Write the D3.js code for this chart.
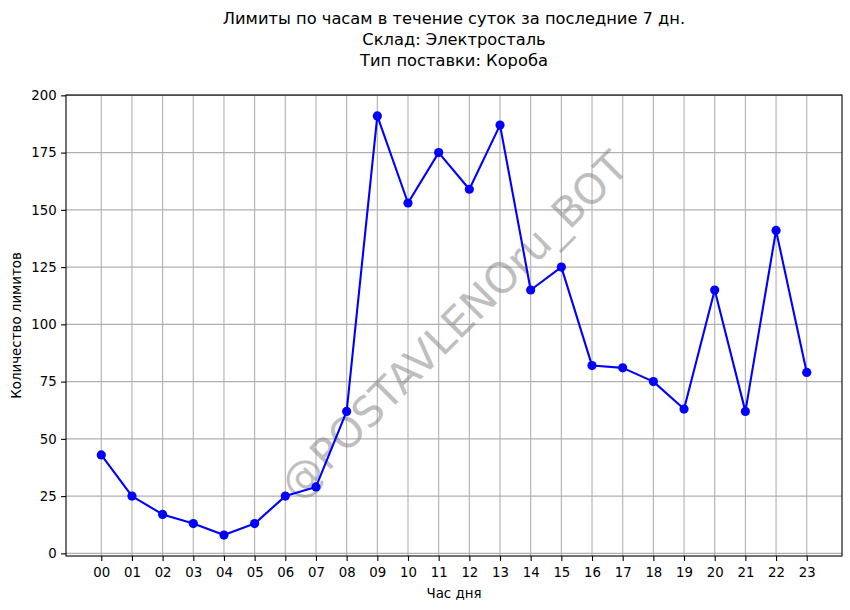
<!DOCTYPE html>
<html>
<head>
<meta charset="utf-8">
<script src="https://cdn.jsdelivr.net/npm/d3@7"></script>
<style>
  body { margin: 0; background: #fff; }
  svg { font-family: "DejaVu Sans", sans-serif; }
</style>
</head>
<body>
<div id="chart"></div>
<script>
// данные ----------------------------------------------------------------------
const hours = ['00', '01', '02', '03', '04', '05', '06', '07', '08', '09', '10', '11',
  '12', '13', '14', '15', '16', '17', '18', '19', '20', '21', '22', '23'];
const limits = [43, 25, 17, 13, 8, 13, 25, 29, 62, 191, 153, 175,
  159, 187, 115, 125, 82, 81, 75, 63, 115, 62, 141, 79];
const yTicks = [0, 25, 50, 75, 100, 125, 150, 175, 200];
const titleLines = [
  'Лимиты по часам в течение суток за последние 7 дн.',
  'Склад: Электросталь',
  'Тип поставки: Короба'
];
const xLabel = 'Час дня';
const yLabel = 'Количество лимитов';
const watermark = '@POSTAVLENOru_BOT';

// размеры ---------------------------------------------------------------------
const width = 850;
const height = 610;
const margin = { top: 95, right: 8, bottom: 54, left: 66 };
const innerW = width - margin.left - margin.right;
const innerH = height - margin.top - margin.bottom;

const svg = d3.select('#chart').append('svg')
  .attr('width', width)
  .attr('height', height);

const g = svg.append('g')
  .attr('transform', 'translate(' + margin.left + ',' + margin.top + ')');

// шкалы -----------------------------------------------------------------------
const x = d3.scaleLinear()
  .domain([-1.15, hours.length - 1 + 1.15])
  .range([0, innerW]);
const y = d3.scaleLinear()
  .domain([-1.15, 200.15])
  .range([innerH, 0]);

// сетка -----------------------------------------------------------------------
g.append('g')
  .selectAll('line')
  .data(hours)
  .enter()
  .append('line')
  .attr('x1', (d, i) => x(i))
  .attr('x2', (d, i) => x(i))
  .attr('y1', 0)
  .attr('y2', innerH)
  .attr('stroke', '#b0b0b0')
  .attr('stroke-width', 1.1);
g.append('g')
  .selectAll('line')
  .data(yTicks)
  .enter()
  .append('line')
  .attr('x1', 0)
  .attr('x2', innerW)
  .attr('y1', d => y(d))
  .attr('y2', d => y(d))
  .attr('stroke', '#b0b0b0')
  .attr('stroke-width', 1.1);

// водяной знак ----------------------------------------------------------------
g.append('text')
  .attr('transform', 'translate(' + (innerW / 2) + ',' + (innerH / 2) + ') rotate(-45)')
  .attr('text-anchor', 'middle')
  .attr('dominant-baseline', 'central')
  .attr('font-size', '42px')
  .attr('fill', '#808080')
  .attr('fill-opacity', 0.5)
  .text(watermark);

// оси -------------------------------------------------------------------------
const xAxis = d3.axisBottom(x)
  .tickValues(d3.range(hours.length))
  .tickFormat(i => hours[i])
  .tickSize(4.9)
  .tickPadding(7);
const yAxis = d3.axisLeft(y)
  .tickValues(yTicks)
  .tickSize(4.9)
  .tickPadding(4.5);

const gx = g.append('g')
  .attr('transform', 'translate(0,' + innerH + ')')
  .call(xAxis);
const gy = g.append('g').call(yAxis);
[gx, gy].forEach(a => {
  a.select('.domain').remove();
  a.selectAll('.tick line').attr('stroke', '#000').attr('stroke-width', 1.1);
  a.selectAll('.tick text')
    .attr('font-family', '"DejaVu Sans", sans-serif')
    .attr('font-size', '13.3px')
    .attr('fill', '#000');
});

// рамка -----------------------------------------------------------------------
g.append('rect')
  .attr('width', innerW)
  .attr('height', innerH)
  .attr('fill', 'none')
  .attr('stroke', '#000')
  .attr('stroke-width', 1.1);

// линия и точки ---------------------------------------------------------------
const line = d3.line()
  .x((d, i) => x(i))
  .y(d => y(d));
g.append('path')
  .datum(limits)
  .attr('d', line)
  .attr('fill', 'none')
  .attr('stroke', '#0000ff')
  .attr('stroke-width', 2.1)
  .attr('stroke-linejoin', 'round');
g.append('g')
  .selectAll('circle')
  .data(limits)
  .enter()
  .append('circle')
  .attr('cx', (d, i) => x(i))
  .attr('cy', d => y(d))
  .attr('r', 4.6)
  .attr('fill', '#0000ff');

// подписи ---------------------------------------------------------------------
svg.append('text')
  .attr('x', margin.left + innerW / 2)
  .attr('y', 593)
  .attr('text-anchor', 'middle')
  .attr('dominant-baseline', 'central')
  .attr('font-size', '13.4px')
  .text(xLabel);
svg.append('text')
  .attr('transform', 'translate(16,' + (margin.top + innerH / 2) + ') rotate(-90)')
  .attr('text-anchor', 'middle')
  .attr('dominant-baseline', 'central')
  .attr('font-size', '13.4px')
  .text(yLabel);

svg.append('g')
  .selectAll('text')
  .data(titleLines)
  .enter()
  .append('text')
  .attr('x', margin.left + innerW / 2)
  .attr('y', (d, i) => 18 + i * 21)
  .attr('text-anchor', 'middle')
  .attr('dominant-baseline', 'central')
  .attr('font-size', '16.3px')
  .text(d => d);
</script>
</body>
</html>
